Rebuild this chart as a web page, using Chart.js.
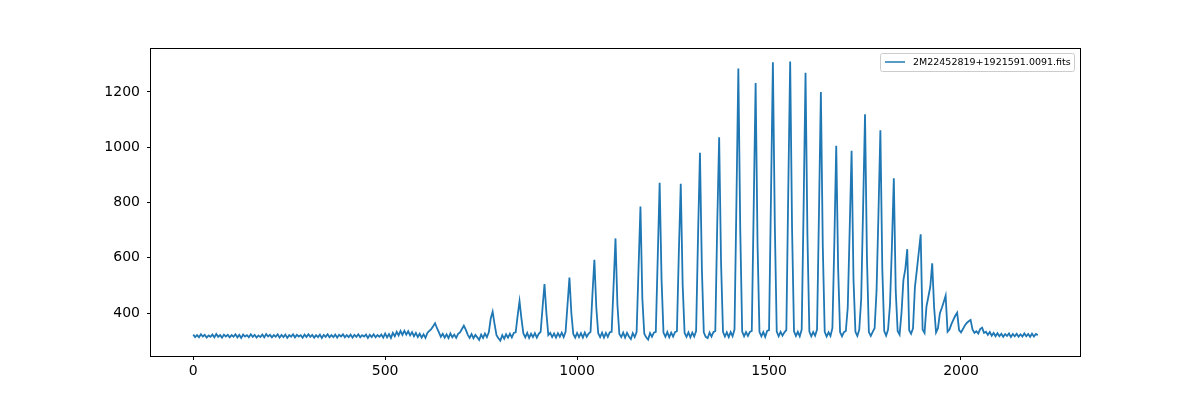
<!DOCTYPE html>
<html>
<head>
<meta charset="utf-8">
<script src="https://cdn.jsdelivr.net/npm/chart.js@4.4.1/dist/chart.umd.min.js"></script>
<style>
  html, body { margin: 0; padding: 0; background: #fff; }
  #wrap { width: 1200px; height: 400px; }
</style>
</head>
<body>
<div id="wrap"><canvas id="grafico" width="1200" height="400"></canvas></div>
<script>
// ticks y nombre de la serie
const xTicks = [0, 500, 1000, 1500, 2000];
const yTicks = [400, 600, 800, 1000, 1200];
const seriesName = '2M22452819+1921591.0091.fits';

// flujo, una muestra cada 5 pixeles (filas de 100)
const sampleStep = 5;
const flux = [
  322, 313, 320, 312, 323, 315, 321, 311, 319, 314, 322, 312, 324, 314, 320, 311, 322, 315, 321, 312, // 0
  320, 314, 323, 312, 321, 310, 322, 315, 320, 312, 323, 314, 321, 311, 319, 313, 322, 312, 324, 315, // 100
  321, 312, 320, 314, 323, 311, 321, 313, 322, 310, 320, 314, 323, 312, 321, 315, 320, 311, 322, 313, // 200
  323, 314, 321, 311, 320, 313, 322, 310, 321, 314, 323, 312, 320, 313, 322, 311, 321, 315, 323, 312, // 300
  320, 313, 322, 311, 321, 314, 323, 312, 320, 315, 322, 310, 321, 313, 323, 312, 320, 314, 322, 311, // 400
  326, 312, 324, 310, 328, 316, 332, 319, 335, 321, 336, 322, 334, 319, 331, 316, 328, 313, 325, 311, // 500
  323, 310, 328, 335, 342, 352, 363, 345, 330, 314, 325, 311, 323, 309, 326, 312, 322, 310, 325, 330, // 600
  342, 354, 340, 322, 310, 324, 309, 321, 312, 303, 322, 310, 326, 313, 330, 380, 405, 360, 320, 309, // 700
  300, 320, 307, 323, 311, 325, 312, 328, 330, 390, 443, 380, 326, 312, 328, 310, 325, 313, 327, 311, // 800
  325, 332, 420, 505, 400, 320, 328, 313, 326, 311, 327, 314, 329, 313, 332, 430, 528, 400, 324, 311, // 900
  328, 313, 327, 311, 329, 314, 326, 332, 470, 593, 420, 327, 313, 329, 311, 328, 314, 330, 332, 500, // 1000
  670, 430, 324, 313, 329, 311, 328, 315, 306, 327, 313, 331, 560, 785, 450, 325, 312, 304, 327, 314, // 1100
  329, 332, 600, 871, 520, 329, 314, 331, 312, 329, 315, 331, 334, 620, 868, 500, 328, 314, 330, 312, // 1200
  329, 315, 335, 680, 980, 560, 330, 314, 309, 329, 315, 331, 335, 720, 1036, 580, 332, 315, 330, 313, // 1300
  331, 316, 340, 800, 1285, 700, 333, 316, 331, 317, 332, 335, 780, 1232, 650, 332, 316, 331, 314, 335, // 1400
  338, 820, 1307, 720, 333, 316, 332, 318, 330, 338, 840, 1310, 700, 334, 317, 332, 316, 340, 780, 1269, // 1500
  680, 333, 316, 331, 318, 340, 760, 1200, 640, 332, 315, 330, 317, 345, 650, 1005, 560, 331, 316, 331, // 1600
  335, 420, 700, 987, 520, 332, 317, 340, 450, 780, 1119, 600, 331, 317, 332, 345, 480, 760, 1061, 560, // 1700
  335, 318, 340, 430, 640, 888, 480, 335, 322, 400, 519, 560, 631, 338, 325, 345, 495, 555, 620, 685, // 1800
  340, 328, 423, 459, 495, 580, 420, 330, 345, 399, 418, 440, 463, 332, 340, 360, 375, 390, 401, 338, // 1900
  330, 342, 355, 364, 370, 375, 341, 328, 334, 326, 342, 347, 328, 332, 321, 331, 318, 328, 316, 327, // 2000
  316, 325, 314, 324, 317, 326, 313, 324, 316, 325, 314, 323, 315, 326, 316, 324, 314, 325, 315, 324, // 2100
  320
];

document.addEventListener("DOMContentLoaded", () => {
    const ctx = document.getElementById('grafico').getContext('2d');
    const azul = '#1f77b4';
    const fuente = "'DejaVu Sans', sans-serif";

    const puntos = flux.map((v, i) => ({ x: i * sampleStep, y: v }));

    // marco negro completo (como los spines de matplotlib) + leyenda dentro del area
    const marcoYLeyenda = {
        id: 'marcoYLeyenda',
        afterDatasetsDraw(chart) {
            const c = chart.ctx;
            const a = chart.chartArea;
            c.save();
            c.strokeStyle = '#000';
            c.lineWidth = 1;
            c.strokeRect(Math.round(a.left) - 0.5, Math.round(a.top) + 0.5,
                Math.round(a.right - a.left) + 1, Math.round(a.bottom - a.top));

            // leyenda
            const bx = 880.5, by = 53.5, bw = 194, bh = 18, r = 2;
            c.beginPath();
            c.moveTo(bx + r, by);
            c.lineTo(bx + bw - r, by);
            c.quadraticCurveTo(bx + bw, by, bx + bw, by + r);
            c.lineTo(bx + bw, by + bh - r);
            c.quadraticCurveTo(bx + bw, by + bh, bx + bw - r, by + bh);
            c.lineTo(bx + r, by + bh);
            c.quadraticCurveTo(bx, by + bh, bx, by + bh - r);
            c.lineTo(bx, by + r);
            c.quadraticCurveTo(bx, by, bx + r, by);
            c.closePath();
            c.fillStyle = 'rgba(255,255,255,0.8)';
            c.fill();
            c.strokeStyle = '#cccccc';
            c.stroke();

            c.beginPath();
            c.moveTo(885, 62);
            c.lineTo(905, 62);
            c.strokeStyle = azul;
            c.lineWidth = 1.5;
            c.stroke();

            c.fillStyle = '#000';
            c.font = "9.5px " + fuente;
            c.textBaseline = 'middle';
            c.textAlign = 'left';
            c.fillText(seriesName, 913, 62.5);
            c.restore();
        }
    };

    new Chart(ctx, {
        type: 'line',
        data: {
            datasets: [{
                label: seriesName,
                data: puntos,
                borderColor: azul,
                borderWidth: 1.8,
                pointRadius: 0,
                tension: 0,
                fill: false
            }]
        },
        options: {
            responsive: false,
            animation: false,
            devicePixelRatio: 1,
            layout: { padding: { left: 0, right: 120, top: 48, bottom: 0 } },
            plugins: {
                legend: { display: false },
                tooltip: { enabled: false }
            },
            scales: {
                x: {
                    type: 'linear',
                    min: -110,
                    max: 2310,
                    afterBuildTicks: (s) => { s.ticks = xTicks.map(v => ({ value: v })); },
                    afterFit: (s) => { s.height = 44; },
                    grid: { drawOnChartArea: false, drawTicks: true, tickLength: 4, tickColor: '#000', tickWidth: 1 },
                    border: { display: false },
                    ticks: { color: '#000', font: { family: fuente, size: 14 }, padding: 3, maxRotation: 0,
                             callback: (v) => String(v) }
                },
                y: {
                    type: 'linear',
                    min: 244.5,
                    max: 1359,
                    afterBuildTicks: (s) => { s.ticks = yTicks.map(v => ({ value: v })); },
                    afterFit: (s) => { s.width = 151; },
                    grid: { drawOnChartArea: false, drawTicks: true, tickLength: 4, tickColor: '#000', tickWidth: 1 },
                    border: { display: false },
                    ticks: { color: '#000', font: { family: fuente, size: 14 }, padding: 7,
                             callback: (v) => String(v) }
                }
            }
        },
        plugins: [marcoYLeyenda]
    });
});
</script>
</body>
</html>
